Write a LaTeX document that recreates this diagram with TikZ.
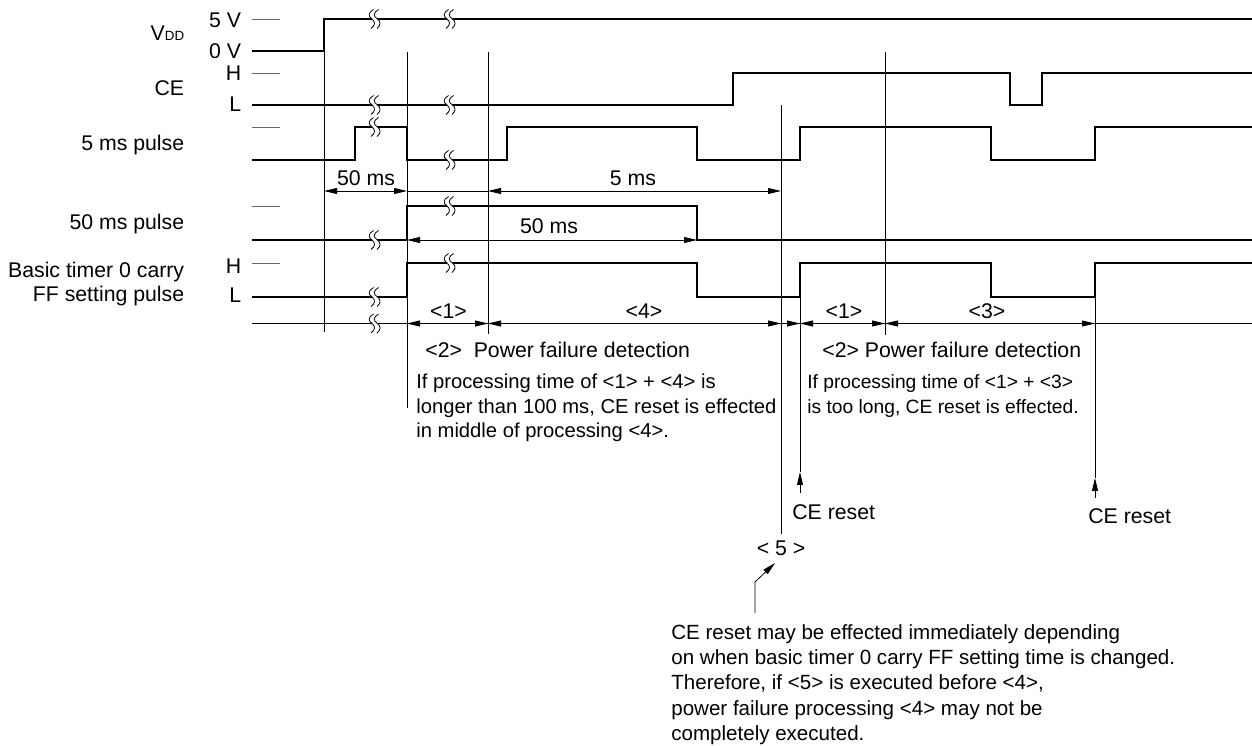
\documentclass[tikz,border=0pt]{standalone}
\usepackage{fontspec}
\setmainfont{Liberation Sans}
\usetikzlibrary{arrows.meta, positioning, calc}

\begin{document}
\begin{tikzpicture}[
    x=0.02cm, y=-0.02cm,
    every node/.style={inner sep=0pt},
    lab/.style={font=\fontsize{12.1}{14.2}\selectfont},
    note/.style={font=\fontsize{11.5}{13.9}\selectfont, align=left, anchor=west},
    sig/.style={line width=1.45pt, miter limit=10},
    thin line/.style={line width=0.45pt},
    tick/.style={line width=0.45pt, black!60},
    dim/.style={line width=0.45pt, {Triangle[length=7.4pt,width=3.4pt]}-{Triangle[length=7.4pt,width=3.4pt]}},
    brk/.pic={
        \fill[white] (1.5,-9.5) .. controls (-4,-6) and (-4,-3) .. (0,0)
            .. controls (3.5,3) and (3.5,6) .. (-1,9.5) -- (5,9.5)
            .. controls (9,6) and (9,3) .. (5.5,0)
            .. controls (1,-3) and (1,-6) .. (6.5,-9.5) -- cycle;
        \draw[line width=0.45pt] (1.5,-9.5) .. controls (-4,-6) and (-4,-3) .. (0,0)
            .. controls (3.5,3) and (3.5,6) .. (-1,9.5);
        \draw[line width=0.45pt] (6.5,-9.5) .. controls (1,-6) and (1,-3) .. (5.5,0)
            .. controls (9,3) and (9,6) .. (5,9.5);
    },
]
\useasboundingbox (0,0) rectangle (1252,746);

% ---------------- signal names and levels
\node[lab, anchor=east] (vddname) at (184.5,33) {V{\fontsize{7.6}{9}\selectfont DD}};
\node[lab, anchor=east] (cename) at (184.5,88) {CE};
\node[lab, anchor=east] (fivename) at (184.5,145.5) {5 ms pulse};
\node[lab, anchor=east] (fiftyname) at (184.5,224.5) {50 ms pulse};
\node[lab, anchor=east, align=right] (basicname) at (184.5,284) {Basic timer 0 carry\\FF setting pulse};
\foreach \n/\y/\t in {vddhi/20/5 V, vddlo/51/0 V, cehi/73/H, celo/104/L, basichi/266.5/H, basiclo/295.5/L}{
    \node[lab, anchor=east] (\n) at (241.5,\y) {\t};
}
\foreach \y in {19, 73, 127, 206, 263}{
    \draw[tick] (252,\y) -- (279.5,\y);
}

% ---------------- waveforms
\draw[sig] (252,51) -- (324,51) -- (324,19) -- (1252,19);
\draw[sig] (252,105) -- (733,105) -- (733,73) -- (1010,73) -- (1010,105)
    -- (1042,105) -- (1042,73) -- (1252,73);
\draw[sig] (252,160) -- (355,160) -- (355,127) -- (407,127) -- (407,160)
    -- (507,160) -- (507,127) -- (697,127) -- (697,160) -- (800,160)
    -- (800,127) -- (991,127) -- (991,160) -- (1095,160) -- (1095,127) -- (1252,127);
\draw[sig] (252,240) -- (407,240) -- (407,206) -- (697,206) -- (697,240) -- (1252,240);
\draw[sig] (252,297) -- (407,297) -- (407,263) -- (697,263) -- (697,297) -- (800,297)
    -- (800,263) -- (991,263) -- (991,297) -- (1095,297) -- (1095,263) -- (1252,263);

% ---------------- guide lines
\draw[thin line] (252,323.5) -- (1252,323.5);
\draw[thin line] (324,51) -- (324,332);
\draw[thin line] (407,52) -- (407,408);
\draw[thin line] (488,52) -- (488,334);
\draw[thin line] (781,105) -- (781,534);
\draw[thin line] (885,52) -- (885,335);
\draw[thin line] (407,191) -- (488,191);

% ---------------- breaks
\foreach \x/\y in {372/19, 447/19, 372/105, 447/105, 372/127, 447/160, 447/206,
    372/240, 447/263, 372/297, 372/323.5}{
    \pic at (\x,\y) {brk};
}

% ---------------- spans
\foreach \a/\b/\y in {324/407/191, 488/781/191, 407/697/240, 407/488/323.5,
    488/781/323.5, 800/885/323.5, 885/1095/323.5}{
    \draw[dim] (\a,\y) -- (\b,\y);
}
\draw[thin line, -{Triangle[length=7.4pt,width=3.4pt]}] (781,323.5) -- (800,323.5);
\foreach \n/\x/\y/\t in {a/366/178/50 ms, b/633/178/5 ms, c/549/226/50 ms, d/448.5/311.5/<1>,
    e/644/311.5/<4>, f/844/311.5/<1>, g/987/311.5/<3>}{
    \node[lab] (span\n) at (\x,\y) {\t};
}

% ---------------- notes
\node[lab, anchor=west] (detectl) at (425,350) {<2>\ \ Power failure detection};
\node[lab, anchor=west] (detectr) at (822,350) {<2> Power failure detection};
\node[note] (notel) at (416,408) {If processing time of <1> + <4> is\\
    longer than 100 ms, CE reset is effected\\in middle of processing <4>.};
\node[note, font=\fontsize{10.95}{13.9}\selectfont] (noter) at (807,396) {If processing time of <1> + <3>\\is too long, CE reset is effected.};

% ---------------- resets
\node[lab, anchor=west] (resetl) at (792,512) {CE reset};
\node[lab, anchor=west] (resetr) at (1088,516) {CE reset};
\draw[thin line, -{Triangle[length=7.4pt,width=3.4pt]}] (800,493) -- (800,472);
\draw[thin line] (800,297) -- (800,472);
\draw[thin line, -{Triangle[length=7.4pt,width=3.4pt]}] (1095,498) -- (1095,478);
\draw[thin line] (1095,297) -- (1095,478);

% ---------------- point 5
\node[lab] (five) at (781,548) {< 5 >};
\node[lab, font=\fontsize{11.7}{14.35}\selectfont, anchor=west, align=left] (remark) at (671,684.5)
    {CE reset may be effected immediately depending\\
    on when basic timer 0 carry FF setting time is changed.\\
    Therefore, if <5> is executed before <4>,\\
    power failure processing <4> may not be\\
    completely executed.};
\draw[thin line, -{Triangle[length=7.4pt,width=3.4pt]}] (755,613) -- (755,582) -- (775,563);
\end{tikzpicture}
\end{document}
